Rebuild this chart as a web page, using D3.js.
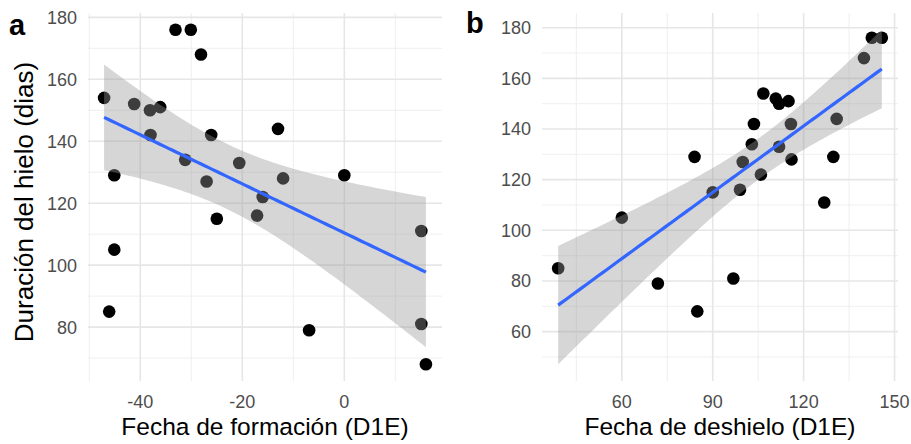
<!DOCTYPE html>
<html>
<head>
<meta charset="utf-8">
<script src="https://cdn.jsdelivr.net/npm/d3@7"></script>
<style>
  html, body { margin: 0; padding: 0; background: #fff; }
  svg { display: block; font-family: "Liberation Sans", Arial, sans-serif; }
  .tick-lab { fill: #4d4d4d; font-size: 18px; }
  .ax-title { fill: #000; }
</style>
</head>
<body>
<div id="chart"></div>
<script>
// panel a: formation date vs ice duration
const formA = [-47.1, -45.1, -41.2, -38.1, -36.1, -38.0, -33.1, -30.1, -28.1, -31.2, -26.1, -27.0, -20.6,
  -13.0, -12.0, -16.0, 0.0, -25.0, -17.1, -45.1, -46.1, -6.9, 15.1, 15.1, 16.0];
const durA = [154, 129, 152, 150, 151, 142, 176, 176, 168, 134, 142, 127, 133,
  144, 128, 122, 129, 115, 116, 105, 85, 79, 111, 81, 68];

// panel b: thaw date vs ice duration
const thawB = [142.5, 145.8, 139.9, 106.7, 110.8, 111.9, 115.0, 103.6, 115.8, 102.9, 111.9, 130.9, 84.0,
  99.9, 116.0, 129.8, 105.9, 90.0, 99.0, 126.8, 60.0, 39.0, 71.9, 84.9, 96.8];
const durB = [176, 176, 168, 154, 152, 150, 151, 142, 142, 134, 133, 144, 129,
  127, 128, 129, 122, 115, 116, 111, 105, 85, 79, 68, 81];

const xTicksA = [-40, -20, 0], xMinorA = [-50, -30, -10, 10];
const xTicksB = [60, 90, 120, 150], xMinorB = [45, 75, 105, 135];
const yTicksA = [80, 100, 120, 140, 160, 180], yMinorA = [70, 90, 110, 130, 150, 170];
const yTicksB = [60, 80, 100, 120, 140, 160, 180], yMinorB = [50, 70, 90, 110, 130, 150, 170];

const W = 911, H = 444;
const svg = d3.select('#chart').append('svg').attr('width', W).attr('height', H);

// lm fit + 95% CI like geom_smooth(method = "lm")
function fit(xs, ys) {
  const n = xs.length, mx = d3.mean(xs), my = d3.mean(ys);
  const sxx = d3.sum(xs, x => (x - mx) ** 2);
  const sxy = d3.sum(xs, (x, i) => (x - mx) * (ys[i] - my));
  const b = sxy / sxx, a = my - b * mx;
  const s = Math.sqrt(d3.sum(xs, (x, i) => (ys[i] - a - b * x) ** 2) / (n - 2));
  const t = 2.068658; // qt(.975, 23)
  const [x0, x1] = d3.extent(xs);
  return d3.range(81).map(k => {
    const x = x0 + (x1 - x0) * k / 80, yh = a + b * x;
    const se = s * Math.sqrt(1 / n + (x - mx) ** 2 / sxx);
    return { x, y: yh, lo: yh - t * se, hi: yh + t * se };
  });
}
const expand = ([a, b]) => [a - (b - a) * 0.05, b + (b - a) * 0.05];

function panel(cfg) {
  const sm = fit(cfg.xs, cfg.ys);
  const xd = expand(d3.extent(cfg.xs));
  const yd = expand([Math.min(d3.min(cfg.ys), d3.min(sm, d => d.lo)), Math.max(d3.max(cfg.ys), d3.max(sm, d => d.hi))]);
  const x = d3.scaleLinear().domain(xd).range(cfg.xr);
  const y = d3.scaleLinear().domain(yd).range(cfg.yr);
  const g = svg.append('g');
  const [x0, x1] = cfg.xr, [y1, y0] = cfg.yr;

  // grid
  g.selectAll('line.vmin').data(cfg.xMinor.filter(v => v >= xd[0] && v <= xd[1])).join('line')
    .attr('x1', d => x(d)).attr('x2', d => x(d)).attr('y1', y0).attr('y2', y1)
    .attr('stroke', '#ededed').attr('stroke-width', 0.9);
  g.selectAll('line.hmin').data(cfg.yMinor.filter(v => v >= yd[0] && v <= yd[1])).join('line')
    .attr('y1', d => y(d)).attr('y2', d => y(d)).attr('x1', x0).attr('x2', x1)
    .attr('stroke', '#ededed').attr('stroke-width', 0.9);
  g.selectAll('line.vmaj').data(cfg.xTicks).join('line')
    .attr('x1', d => x(d)).attr('x2', d => x(d)).attr('y1', y0).attr('y2', y1)
    .attr('stroke', '#e6e6e6').attr('stroke-width', 1.6);
  g.selectAll('line.hmaj').data(cfg.yTicks).join('line')
    .attr('y1', d => y(d)).attr('y2', d => y(d)).attr('x1', x0).attr('x2', x1)
    .attr('stroke', '#e6e6e6').attr('stroke-width', 1.6);

  // tick labels
  g.selectAll('text.xt').data(cfg.xTicks).join('text').attr('class', 'tick-lab')
    .attr('x', d => x(d)).attr('y', 408).attr('text-anchor', 'middle').text(d => d);
  g.selectAll('text.yt').data(cfg.yTicks).join('text').attr('class', 'tick-lab')
    .attr('x', x0 - 11).attr('y', d => y(d)).attr('dy', '0.36em').attr('text-anchor', 'end').text(d => d);

  // points, then ribbon on top, then line
  g.selectAll('circle').data(cfg.xs.map((v, i) => [v, cfg.ys[i]])).join('circle')
    .attr('cx', d => x(d[0])).attr('cy', d => y(d[1])).attr('r', 6.3).attr('fill', '#000');
  g.append('path').datum(sm)
    .attr('d', d3.area().x(d => x(d.x)).y0(d => y(d.lo)).y1(d => y(d.hi)))
    .attr('fill', '#999999').attr('fill-opacity', 0.4);
  g.append('path').datum(sm)
    .attr('d', d3.line().x(d => x(d.x)).y(d => y(d.y)))
    .attr('fill', 'none').attr('stroke', '#3366ff').attr('stroke-width', 3.2);

  // titles
  g.append('text').attr('class', 'ax-title').attr('x', (x0 + x1) / 2).attr('y', 435)
    .attr('text-anchor', 'middle').attr('font-size', 24.5).text(cfg.xTitle);
  g.append('text').attr('x', cfg.tag[0]).attr('y', cfg.tag[1])
    .attr('font-size', 29).attr('font-weight', 'bold').text(cfg.tagText);
}

panel({ xs: formA, ys: durA, xr: [88, 442], yr: [381, 13], xTicks: xTicksA, xMinor: xMinorA,
  yTicks: yTicksA, yMinor: yMinorA, xTitle: 'Fecha de formación (D1E)', tag: [9, 35], tagText: 'a' });
panel({ xs: thawB, ys: durB, xr: [542, 898], yr: [381, 13], xTicks: xTicksB, xMinor: xMinorB,
  yTicks: yTicksB, yMinor: yMinorB, xTitle: 'Fecha de deshielo (D1E)', tag: [466, 33], tagText: 'b' });

svg.append('text').attr('class', 'ax-title').attr('font-size', 26)
  .attr('transform', 'translate(33,202) rotate(-90)').attr('text-anchor', 'middle')
  .text('Duración del hielo (dias)');
</script>
</body>
</html>
